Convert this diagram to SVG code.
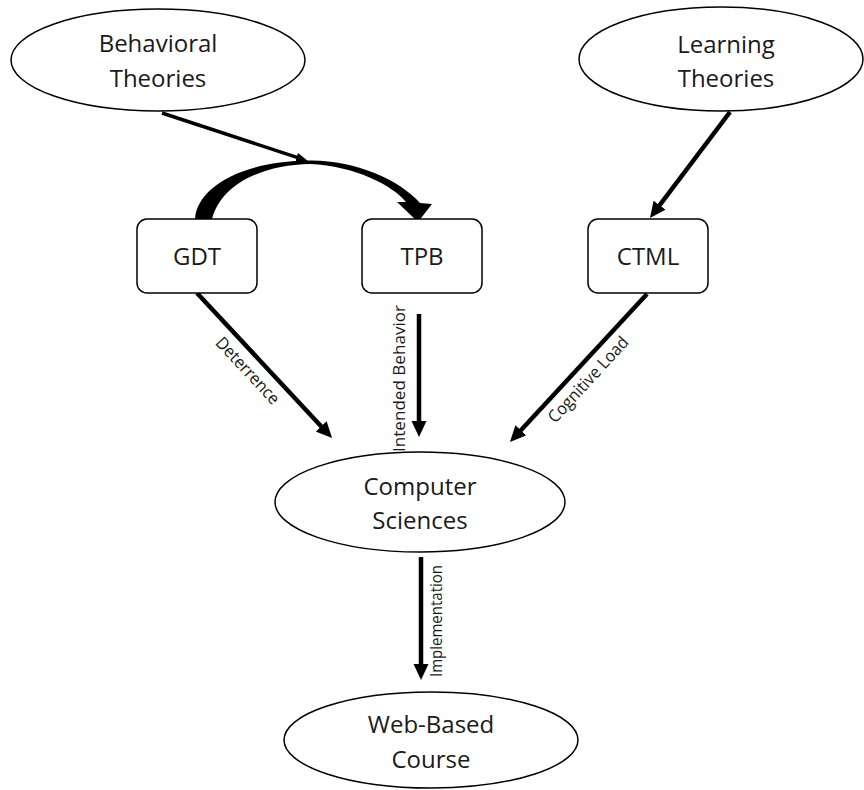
<svg xmlns="http://www.w3.org/2000/svg" width="864" height="790" viewBox="0 0 864 790">
<style>
.node{fill:#fff;stroke:#000;stroke-width:1.5}
.lbl{font-family:"Open Sans","Liberation Sans",sans-serif;font-size:24px;fill:#1a1a1a;text-anchor:middle}
.elbl{font-family:"Open Sans","Liberation Sans",sans-serif;font-size:17px;fill:#1a1a1a;text-anchor:middle}
.edge{stroke:#000;stroke-width:4.5;fill:none}
.thin{stroke:#000;stroke-width:3.5;fill:none}
</style>
<defs>
<marker id="ah" markerUnits="userSpaceOnUse" markerWidth="17" markerHeight="16" refX="2" refY="7.5" orient="auto" viewBox="0 0 17 16">
<path d="M0,0 L16,7.5 L0,15 z" fill="#000"/>
</marker>
<marker id="ahs" markerUnits="userSpaceOnUse" markerWidth="13" markerHeight="10" refX="2" refY="4.5" orient="auto" viewBox="0 0 13 10">
<path d="M0,0 L12,4.5 L0,9 z" fill="#000"/>
</marker>
</defs>
<rect width="864" height="790" fill="#fff"/>
<g id="connectors">
<line class="thin" x1="162" y1="113" x2="298.5" y2="157.9" marker-end="url(#ahs)"/>
<path id="gdt-tpb" d="M195,219 C197,188 240,161 310,160.5 C355,160 400,180 420,203 L432,204 L418,222 L397,202 L406,202 C392,185 355,166 310,164 C265,165 222,182 212,219 Z" fill="#000"/>
<line class="edge" x1="730" y1="112" x2="658.4" y2="206.8" marker-end="url(#ah)"/>
<line class="edge" x1="197" y1="293" x2="322.5" y2="427.8" marker-end="url(#ah)"/>
<line class="edge" x1="419" y1="314" x2="419" y2="423" marker-end="url(#ah)"/>
<line class="edge" x1="647" y1="294" x2="519.5" y2="431.7" marker-end="url(#ah)"/>
<line class="edge" x1="421" y1="557" x2="421" y2="666" marker-end="url(#ah)"/>
<text class="elbl" transform="translate(243.5,374.5) rotate(47)" textLength="85" lengthAdjust="spacingAndGlyphs">Deterrence</text>
<text class="elbl" transform="translate(404.5,378.5) rotate(-90)" textLength="147" lengthAdjust="spacingAndGlyphs">Intended Behavior</text>
<text class="elbl" transform="translate(592.5,383.5) rotate(-47.5)" textLength="110" lengthAdjust="spacingAndGlyphs">Cognitive Load</text>
<text class="elbl" transform="translate(441.5,621) rotate(-90)" textLength="112" lengthAdjust="spacingAndGlyphs">Implementation</text>
</g>
<g id="behavioral">
<ellipse class="node" cx="158" cy="60" rx="147" ry="51"/>
<text class="lbl" x="158" y="52">Behavioral</text>
<text class="lbl" x="158" y="87">Theories</text>
</g>
<g id="learning">
<ellipse class="node" cx="721" cy="59" rx="142" ry="52"/>
<text class="lbl" x="726" y="53">Learning</text>
<text class="lbl" x="726" y="87">Theories</text>
</g>
<g id="gdt">
<rect class="node" x="137" y="219" width="120" height="74" rx="10"/>
<text class="lbl" x="197" y="265">GDT</text>
</g>
<g id="tpb">
<rect class="node" x="362" y="219" width="120" height="74" rx="10"/>
<text class="lbl" x="422" y="265">TPB</text>
</g>
<g id="ctml">
<rect class="node" x="588" y="219" width="120" height="74" rx="10"/>
<text class="lbl" x="648" y="265">CTML</text>
</g>
<g id="computer">
<ellipse class="node" cx="420" cy="502" rx="145" ry="50"/>
<text class="lbl" x="420" y="495">Computer</text>
<text class="lbl" x="420" y="529">Sciences</text>
</g>
<g id="web">
<ellipse class="node" cx="431" cy="740" rx="147" ry="48"/>
<text class="lbl" x="431" y="733">Web-Based</text>
<text class="lbl" x="431" y="768">Course</text>
</g>
</svg>
